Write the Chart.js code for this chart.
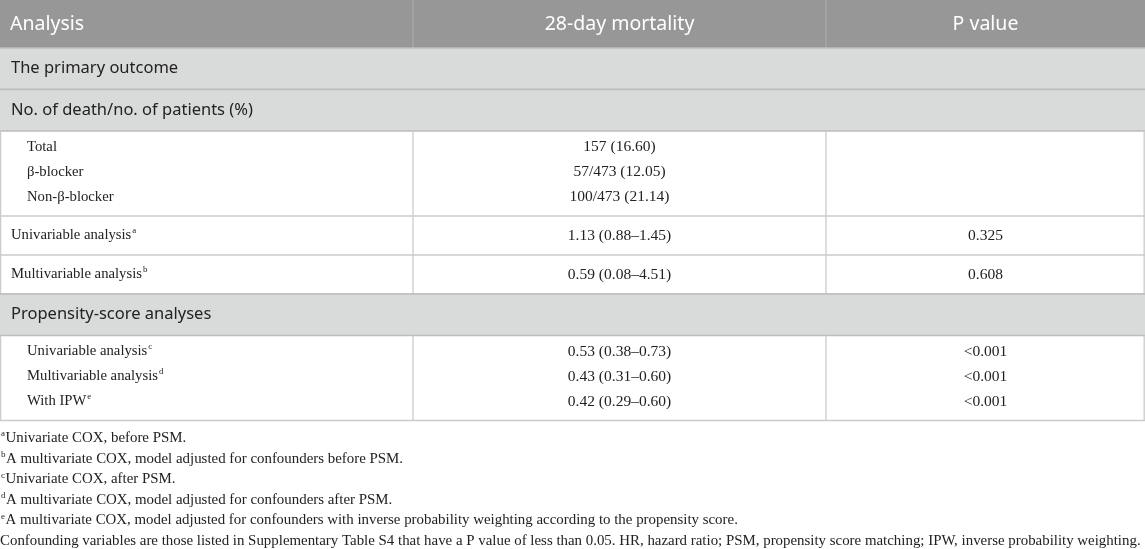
<!DOCTYPE html>
<html>
<head>
<meta charset="utf-8">
<title>28-day mortality</title>
<script src="https://cdn.jsdelivr.net/npm/chart.js@4.4.1/dist/chart.umd.min.js"></script>
<style>
  html, body { margin: 0; padding: 0; background: #ffffff; }
  #wrap { width: 1145px; height: 549px; position: relative; }
</style>
</head>
<body>
<div id="wrap"><canvas id="table"></canvas></div>
<script>
// table content
var headers = ['Analysis', '28-day mortality', 'P value'];

var primaryTitle = 'The primary outcome';
var countTitle = 'No. of death/no. of patients (%)';
var countLabels = ['Total', 'β-blocker', 'Non-β-blocker'];
var countValues = ['157 (16.60)', '57/473 (12.05)', '100/473 (21.14)'];

var crudeLabels = ['Univariable analysis', 'Multivariable analysis'];
var crudeMarks = ['a', 'b'];
var crudeValues = ['1.13 (0.88–1.45)', '0.59 (0.08–4.51)'];
var crudePValues = ['0.325', '0.608'];

var psTitle = 'Propensity-score analyses';
var psLabels = ['Univariable analysis', 'Multivariable analysis', 'With IPW'];
var psMarks = ['c', 'd', 'e'];
var psValues = ['0.53 (0.38–0.73)', '0.43 (0.31–0.60)', '0.42 (0.29–0.60)'];
var psPValues = ['<0.001', '<0.001', '<0.001'];

var footMarks = ['a', 'b', 'c', 'd', 'e', ''];
var footTexts = [
    'Univariate COX, before PSM.',
    'A multivariate COX, model adjusted for confounders before PSM.',
    'Univariate COX, after PSM.',
    'A multivariate COX, model adjusted for confounders after PSM.',
    'A multivariate COX, model adjusted for confounders with inverse probability weighting according to the propensity score.',
    'Confounding variables are those listed in Supplementary Table S4 that have a P value of less than 0.05. HR, hazard ratio; PSM, propensity score matching; IPW, inverse probability weighting.'
];

// layout / styles
var W = 1145, H = 549;
var colEdges = [0, 413, 826, W];
var sans = '"Noto Sans", "Open Sans", sans-serif';
var serif = '"Liberation Serif", "DejaVu Serif", serif';
var style = {
    headBg: '#979797', headLine: '#a9a9a9', headText: '#ffffff',
    sectionBg: '#d9dbda', sectionLine: '#bcbcbc',
    line: '#cbcbcb', text: '#222222',
    headFont: 19.5, sectionFont: 16.5, labelFont: 14.7, valueFont: 15.5, footFont: 14.9,
    headH: 48, sectionH: 41.5, singleH: 39, lineH: 25, blockPad: 16, blockH: 85,
    footTop: 438, footStep: 20.6
};

// build row list
var rows = [];
rows.push({ kind: 'head', cells: headers });
rows.push({ kind: 'section', text: primaryTitle });
rows.push({ kind: 'section', text: countTitle });
rows.push({ kind: 'block', labels: countLabels, marks: ['', '', ''], values: countValues, pvals: ['', '', ''] });
crudeLabels.forEach(function (l, i) {
    rows.push({ kind: 'single', labels: [l], marks: [crudeMarks[i]], values: [crudeValues[i]], pvals: [crudePValues[i]] });
});
rows.push({ kind: 'section', text: psTitle });
rows.push({ kind: 'block', labels: psLabels, marks: psMarks, values: psValues, pvals: psPValues });

function rowHeight(r) {
    if (r.kind === 'head') return style.headH;
    if (r.kind === 'section') return style.sectionH;
    if (r.kind === 'single') return style.singleH;
    return style.blockH;
}

function textWithMark(ctx, text, mark, x, y, font, size, align) {
    ctx.font = size + 'px ' + font;
    var w = ctx.measureText(text).width;
    var mw = 0;
    if (mark) {
        ctx.font = (size * 0.6) + 'px ' + font;
        mw = ctx.measureText(mark).width + 1;
    }
    var start = align === 'center' ? x - (w + mw) / 2 : x;
    ctx.textAlign = 'left';
    ctx.font = size + 'px ' + font;
    ctx.fillText(text, start, y);
    if (mark) {
        ctx.font = (size * 0.6) + 'px ' + font;
        ctx.fillText(mark, start + w + 1, y - size * 0.3);
    }
}

function hLine(ctx, xs, y, x0, x1, color) {
    ctx.strokeStyle = color;
    ctx.lineWidth = 1.3;
    ctx.beginPath();
    ctx.moveTo(xs.getPixelForValue(x0), y);
    ctx.lineTo(xs.getPixelForValue(x1), y);
    ctx.stroke();
}

function vLine(ctx, xs, x, y0, y1, color) {
    ctx.strokeStyle = color;
    ctx.lineWidth = 1.3;
    ctx.beginPath();
    ctx.moveTo(xs.getPixelForValue(x), y0);
    ctx.lineTo(xs.getPixelForValue(x), y1);
    ctx.stroke();
}

var tablePlugin = {
    id: 'tablePlugin',
    afterDraw: function (chart) {
        var ctx = chart.ctx;
        var xs = chart.scales.x, ys = chart.scales.y;
        ctx.save();
        ctx.textBaseline = 'middle';
        var midCol2 = xs.getPixelForValue((colEdges[1] + colEdges[2]) / 2);
        var midCol3 = xs.getPixelForValue((colEdges[2] + colEdges[3]) / 2);
        var top = 0;
        rows.forEach(function (r) {
            var h = rowHeight(r);
            var y0 = ys.getPixelForValue(top), y1 = ys.getPixelForValue(top + h);
            var xl = xs.getPixelForValue(0), xr = xs.getPixelForValue(W);
            if (r.kind === 'head') {
                ctx.fillStyle = style.headBg;
                ctx.fillRect(xl, y0, xr - xl, y1 - y0);
                vLine(ctx, xs, colEdges[1], y0, y1, style.headLine);
                vLine(ctx, xs, colEdges[2], y0, y1, style.headLine);
                ctx.fillStyle = style.headText;
                var cy = (y0 + y1) / 2;
                textWithMark(ctx, r.cells[0], '', xs.getPixelForValue(10), cy, sans, style.headFont, 'left');
                textWithMark(ctx, r.cells[1], '', midCol2, cy, sans, style.headFont, 'center');
                textWithMark(ctx, r.cells[2], '', midCol3, cy, sans, style.headFont, 'center');
            } else if (r.kind === 'section') {
                ctx.fillStyle = style.sectionBg;
                ctx.fillRect(xl, y0, xr - xl, y1 - y0);
                ctx.fillStyle = style.text;
                textWithMark(ctx, r.text, '', xs.getPixelForValue(11), (y0 + y1) / 2, sans, style.sectionFont, 'left');
                hLine(ctx, xs, y0, 0, W, style.sectionLine);
                hLine(ctx, xs, y1, 0, W, style.sectionLine);
            } else {
                vLine(ctx, xs, 0.6, y0, y1, style.line);
                vLine(ctx, xs, colEdges[1], y0, y1, style.line);
                vLine(ctx, xs, colEdges[2], y0, y1, style.line);
                vLine(ctx, xs, W - 0.8, y0, y1, style.line);
                var indent = r.kind === 'block' ? 27 : 11;
                ctx.fillStyle = style.text;
                r.labels.forEach(function (l, i) {
                    var cy = r.kind === 'block'
                        ? ys.getPixelForValue(top + style.blockPad + i * style.lineH)
                        : (y0 + y1) / 2;
                    textWithMark(ctx, l, r.marks[i], xs.getPixelForValue(indent), cy, serif, style.labelFont, 'left');
                    textWithMark(ctx, r.values[i], '', midCol2, cy, serif, style.valueFont, 'center');
                    if (r.pvals[i]) {
                        textWithMark(ctx, r.pvals[i], '', midCol3, cy, serif, style.valueFont, 'center');
                    }
                });
                hLine(ctx, xs, y1, 0, W, style.line);
            }
            top += h;
        });

        // footnotes
        ctx.fillStyle = style.text;
        footTexts.forEach(function (t, i) {
            var cy = ys.getPixelForValue(style.footTop + i * style.footStep);
            var mark = footMarks[i];
            var x = xs.getPixelForValue(0);
            if (mark) {
                ctx.font = '9px ' + serif;
                ctx.textAlign = 'left';
                ctx.fillText(mark, x + 1, cy - 4);
                x += ctx.measureText(mark).width + 1.5;
            }
            ctx.font = style.footFont + 'px ' + serif;
            ctx.fillText(t, x, cy);
        });
        ctx.restore();
    }
};

new Chart(document.getElementById('table').getContext('2d'), {
    type: 'scatter',
    data: { datasets: [] },
    options: {
        responsive: true,
        maintainAspectRatio: false,
        animation: false,
        layout: { padding: 0 },
        scales: {
            x: { type: 'linear', min: 0, max: W, display: false },
            y: { type: 'linear', min: 0, max: H, reverse: true, display: false }
        },
        plugins: { legend: { display: false }, tooltip: { enabled: false } }
    },
    plugins: [tablePlugin]
});
</script>
</body>
</html>
